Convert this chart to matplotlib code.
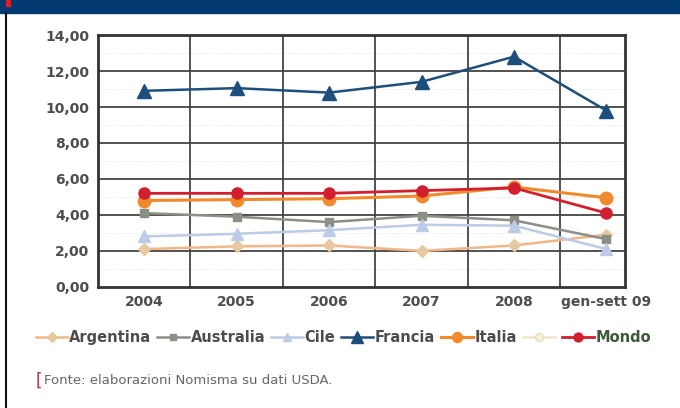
import matplotlib
matplotlib.use("Agg")
import matplotlib.pyplot as plt
from matplotlib.lines import Line2D
from matplotlib.patches import Rectangle

plt.rcParams['font.family'] = ['Liberation Sans Narrow', 'DejaVu Sans']

categorie = ["2004", "2005", "2006", "2007", "2008", "gen-sett 09"]
argentina = [2.10, 2.25, 2.30, 2.00, 2.30, 2.90]
australia = [4.10, 3.90, 3.60, 3.95, 3.70, 2.65]
cile = [2.80, 2.95, 3.15, 3.45, 3.40, 2.10]
francia = [10.90, 11.05, 10.80, 11.40, 12.80, 9.80]
italia = [4.80, 4.85, 4.90, 5.05, 5.55, 4.95]
mondo = [5.20, 5.20, 5.20, 5.35, 5.50, 4.10]
yticks = [0, 2, 4, 6, 8, 10, 12, 14]

fig = plt.figure(figsize=(6.8, 4.08), dpi=100)
ax = fig.add_axes([0.144, 0.297, 0.775, 0.617])

x = list(range(len(categorie)))
series = [
    ("Argentina", argentina, "#f2b788", "D", "#e8c8a0", 1.8, 6),
    ("Australia", australia, "#8c8f86", "s", "#8c8f86", 1.8, 6),
    ("Cile", cile, "#bccbe6", "^", "#bccbe6", 1.8, 8),
    ("Francia", francia, "#1d4f7c", "^", "#1d4f7c", 1.8, 10),
    ("Italia", italia, "#f08a2c", "o", "#f08a2c", 2.2, 9),
    ("Mondo", mondo, "#d21f2f", "o", "#d21f2f", 2.0, 8),
]
handles = {}
for nome, vals, col, mk, mcol, lw, ms in series:
    h, = ax.plot(x, vals, color=col, lw=lw, marker=mk, markersize=ms,
                 markerfacecolor=mcol, markeredgecolor=mcol, zorder=3)
    handles[nome] = h

ax.set_xlim(-0.5, 5.2)
ax.set_ylim(0, 14)
ax.set_yticks(yticks)
ax.set_yticklabels([f"{v:.2f}".replace(".", ",") for v in yticks],
                   fontsize=10, fontweight="bold", color="#4d4d4d")
ax.set_xticks(x)
ax.set_xticklabels(categorie, fontsize=10, fontweight="bold", color="#4d4d4d")
ax.tick_params(length=0, pad=6)
for v in yticks[1:-1]:
    ax.axhline(v, color="#444444", lw=1.3, zorder=1)
for v in [0.5, 1.5, 2.5, 3.5, 4.5]:
    ax.axvline(v, color="#444444", lw=1.3, zorder=1)
for v in [1, 3, 5, 7, 9, 11, 13]:
    ax.axhline(v, color="#dddddd", lw=0.6, ls=":", zorder=0)
for s in ax.spines.values():
    s.set_color("#333333")
    s.set_linewidth(2)

vuoto = Line2D([], [], color="#efe6cc", lw=1.8, marker="o", markersize=7,
               markerfacecolor="#f7f1e0", markeredgecolor="#e6dcc0")
leg_h = [handles["Argentina"], handles["Australia"], handles["Cile"],
         handles["Francia"], handles["Italia"], vuoto, handles["Mondo"]]
leg_l = ["Argentina", "Australia", "Cile", "Francia", "Italia", "", "Mondo"]
leg = fig.legend(leg_h, leg_l, loc="center", bbox_to_anchor=(0.505, 0.172), ncol=7,
                 frameon=False, handlelength=2.2, handletextpad=0.1,
                 columnspacing=0.4, markerscale=0.8,
                 prop={"size": 10.5, "weight": "bold"})
for t in leg.get_texts():
    t.set_color("#4d4d4d")
leg.get_texts()[-1].set_color("#3a5a3a")

# banner e cornice
fig.patches.append(Rectangle((0, 0.968), 1, 0.032, transform=fig.transFigure,
                             color="#003a70", zorder=0))
fig.patches.append(Rectangle((0.009, 0.985), 0.006, 0.015, transform=fig.transFigure,
                             color="#d8202a", zorder=1))
fig.add_artist(Line2D([0.0088, 0.0088], [0, 0.968], transform=fig.transFigure,
                      color="#111111", lw=1.5))

fig.text(0.052, 0.068, "[", fontsize=12, color="#b03040", va="center")
fig.text(0.065, 0.068, "Fonte: elaborazioni Nomisma su dati USDA.", fontsize=9.5,
         color="#666666", va="center")

fig.savefig("out.png", dpi=100)
